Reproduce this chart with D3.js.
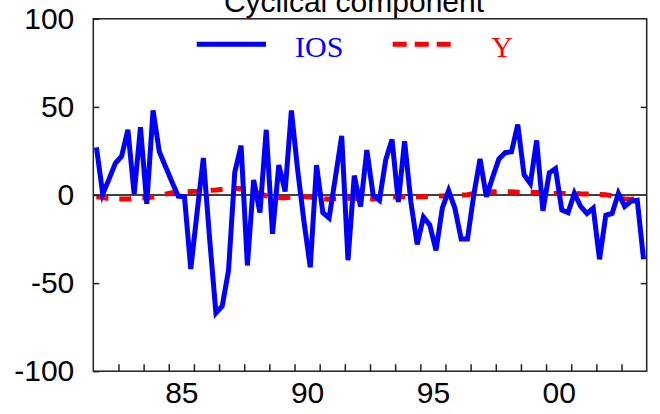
<!DOCTYPE html>
<meta charset="UTF-8">
<title>Cyclical component</title>
<style>
  body { margin: 0; background: #fff; }
  svg { display: block; }
  .tick text { font-family: "Liberation Sans", Arial, sans-serif; font-size: 30px; fill: #000; }
</style>
<script src="https://d3js.org/d3.v7.min.js"></script>
<body>
<script>
  // quarterly data, 1982Q1 .. 2003Q4
  var startYear = 1982;
  var ios = [27, 0.5, 9, 18, 22, 37, 0.5, 38.5, -5, 48,
             24.5, 16, 7.5, -0.6, -1, -42, -10, 21, -25, -67,
             -63, -43, 13, 28, -40, 8.5, -10, 37, -22, 17,
             2, 48, 14, -15, -41, 17, -10, -13, 10, 33.5,
             -37, 11, -6.5, 25.5, 0, -3, 20, 31.5, -4, 30.5,
             -4, -28, -12.5, -17, -31.5, -7.5, 2.5, -7.5, -25, -25,
             0, 20.5, -1, 10, 20.5, 24, 24.5, 40, 11.5, 6.5,
             31, -9, 12.5, 15, -8.5, -10, 1, -6.5, -10.5, -7.5,
             -36.5, -11.5, -10.5, 1, -6.5, -3.5, -3, -36.5];
  var outputY = [-1, -1.5, -2, -2.3, -2.3, -2.3, -2, -1.8, -1.5, -1.2,
           -0.3, 0.5, 1.3, 1.6, 1.8, 2, 2.1, 2.4, 2.7, 2.9,
           3.2, 3.6, 3.8, 3.6, 2.8, 2, 0.8, -0.5, -1.2, -1.5,
           -1.5, -1.3, -1, -0.9, -1.2, -1.8, -2.2, -2.3, -2.2, -2,
           -1.9, -2, -2.1, -2.3, -2.3, -2.1, -1.5, -1.1, -1, -1,
           -1, -1, -0.9, -0.8, -0.6, -0.5, -0.3, -0.2, 0, 0.2,
           0.8, 1.4, 1.7, 1.8, 1.9, 1.9, 1.9, 1.6, 1.6, 1.5,
           1.4, 1.2, 1.0, 0.9, 0.9, 0.9, 0.9, 0.7, 0.6, 0.5,
           0.3, 0.2, -0.5, -1.5, -2.2, -2.4, -2.2, -2];
  var yTicks = [-100, -50, 0, 50, 100];
  var yearTicks = d3.range(1983, 2004);
  var yearLabels = [1985, 1990, 1995, 2000];

  var width = 660, height = 414;
  var plotLeft = 93.3, plotRight = 646.7, plotTop = 18.8, plotBottom = 371.2;

  var svg = d3.select("body").append("svg")
    .attr("width", width).attr("height", height);

  var x = d3.scaleLinear().domain([1982, 2004]).range([plotLeft, plotRight]);
  var yScale = d3.scaleLinear().domain([-100, 100]).range([plotBottom, plotTop]);

  // title, cut off at the top edge
  svg.append("text")
    .attr("x", 354).attr("y", 12)
    .attr("text-anchor", "middle")
    .style("font-family", "'Liberation Sans', Arial, sans-serif")
    .style("font-size", "30px")
    .text("Cyclical component");

  svg.append("clipPath").attr("id", "clip")
    .append("rect").attr("x", plotLeft).attr("y", plotTop)
    .attr("width", plotRight - plotLeft).attr("height", plotBottom - plotTop);

  function date(i) { return startYear + i / 4 + 0.125; }

  // zero line
  svg.append("line")
    .attr("x1", plotLeft).attr("x2", plotRight)
    .attr("y1", yScale(0)).attr("y2", yScale(0))
    .attr("stroke", "#000").attr("stroke-width", 1.5);

  var line = d3.line()
    .x(function(d, i) { return x(date(i)); })
    .y(function(d) { return yScale(d); });

  var plot = svg.append("g").attr("clip-path", "url(#clip)");

  plot.append("path")
    .datum(outputY)
    .attr("d", line)
    .attr("fill", "none")
    .attr("stroke", "#ff0000")
    .attr("stroke-width", 5)
    .attr("stroke-dasharray", "12,11");

  plot.append("path")
    .datum(ios)
    .attr("d", line)
    .attr("fill", "none")
    .attr("stroke", "#0000ff")
    .attr("stroke-width", 5)
    .attr("stroke-linejoin", "miter")
    .attr("stroke-miterlimit", 4);

  // frame
  svg.append("rect")
    .attr("x", plotLeft).attr("y", plotTop)
    .attr("width", plotRight - plotLeft).attr("height", plotBottom - plotTop)
    .attr("fill", "none").attr("stroke", "#222").attr("stroke-width", 1.5);

  // left axis with labels, ticks pointing inward
  svg.append("g")
    .attr("transform", "translate(" + plotLeft + ",0)")
    .call(d3.axisLeft(yScale).tickValues(yTicks).tickSizeInner(-6).tickSizeOuter(0)
      .tickPadding(19).tickFormat(function(d) { return String(d); }))
    .call(function(g) { g.select(".domain").remove(); })
    .selectAll("line").attr("stroke", "#222").attr("stroke-width", 1.5);

  // right axis ticks
  svg.append("g")
    .attr("transform", "translate(" + plotRight + ",0)")
    .call(d3.axisRight(yScale).tickValues([-50, 50]).tickSizeInner(-6).tickSizeOuter(0)
      .tickFormat(""))
    .call(function(g) { g.select(".domain").remove(); })
    .selectAll("line").attr("stroke", "#222").attr("stroke-width", 1.5);

  // bottom ticks at year starts
  svg.append("g")
    .attr("transform", "translate(0," + plotBottom + ")")
    .call(d3.axisBottom(x).tickValues(yearTicks).tickSizeInner(-7).tickSizeOuter(0)
      .tickFormat(""))
    .call(function(g) { g.select(".domain").remove(); })
    .selectAll("line").attr("stroke", "#222").attr("stroke-width", 1.5);

  // year labels in the middle of each year
  svg.append("g")
    .attr("transform", "translate(0," + plotBottom + ")")
    .call(d3.axisBottom(x).tickValues(yearLabels.map(function(d) { return d + 0.5; }))
      .tickSize(0).tickPadding(10.5)
      .tickFormat(function(d) { return String(Math.floor(d) % 100).padStart(2, "0"); }))
    .call(function(g) { g.select(".domain").remove(); });

  // legend
  var legend = svg.append("g");
  legend.append("line")
    .attr("x1", 196.7).attr("x2", 266).attr("y1", 44.3).attr("y2", 44.3)
    .attr("stroke", "#0000ff").attr("stroke-width", 5);
  legend.append("text")
    .attr("x", 295).attr("y", 56.7)
    .style("font-family", "'Liberation Serif', 'Times New Roman', serif")
    .style("font-size", "30px").attr("fill", "#0000ff")
    .text("IOS");
  legend.append("line")
    .attr("x1", 392.7).attr("x2", 451).attr("y1", 44.3).attr("y2", 44.3)
    .attr("stroke", "#ff0000").attr("stroke-width", 5)
    .attr("stroke-dasharray", "14,8");
  legend.append("text")
    .attr("x", 502).attr("y", 56.7)
    .attr("text-anchor", "middle")
    .style("font-family", "'Liberation Serif', 'Times New Roman', serif")
    .style("font-size", "30px").attr("fill", "#ff0000")
    .text("Y");
</script>
</body>
